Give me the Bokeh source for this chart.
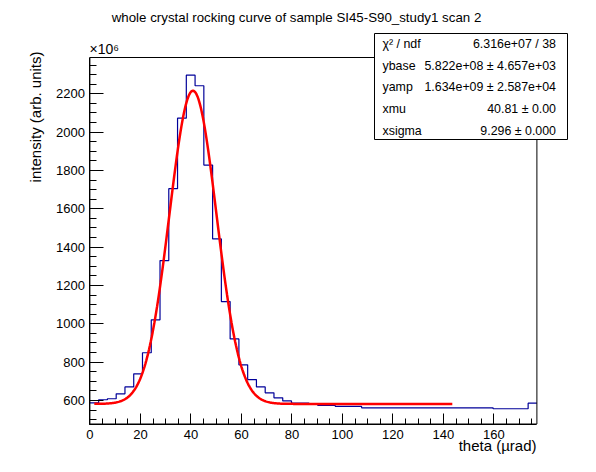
import numpy as np
from bokeh.plotting import figure
from bokeh.models import Range1d, SingleIntervalTicker, Label, BoxAnnotation, ColumnDataSource
from bokeh.embed import file_html
from bokeh.resources import INLINE

# ---------------- data (intensity in units of 10^6) ----------------
hist_xmin = 0.0
hist_xmax = 177.0
hist_counts = [588, 604, 609, 635, 671, 739, 849, 1021, 1330, 1705,
               2073, 2297, 2242, 1828, 1443, 1116, 921, 786, 709, 671,
               640, 614, 598, 586, 586, 579, 574, 574, 569, 569,
               569, 562, 562, 562, 562, 562, 562, 562, 562, 562,
               562, 562, 562, 562, 562, 562, 557, 557, 557, 557,
               586]

# fit parameters (from the stats box), ybase/yamp in units of 10^6
fit_ybase = 582.2
fit_yamp = 1634.0
fit_xmu = 40.81
fit_xsigma = 9.296
fit_xmin = 1.74
fit_xmax = 143.5

# displayed axis window
y_lo, y_hi = 477.4, 2389.4

stats_names = ["\u03c7\u00b2 / ndf", "ybase", "yamp", "xmu", "xsigma"]
stats_values = ["6.316e+07 / 38", "5.822e+08 \u00b1 4.657e+03",
                "1.634e+09 \u00b1 2.587e+04", "40.81 \u00b1 0.00", "9.296 \u00b1 0.000"]

title_text = "whole crystal rocking curve of sample SI45-S90_study1 scan 2"
xtitle_text = "theta (\u00b5rad)"
ytitle_text = "intensity (arb. units)"
exponent_text = "\u00d710\u2076"

# ---------------- layout constants (canvas pixels) ----------------
FONT = "Liberation Sans"
W, H = 580, 456
FL, FR, FT, FB = 89.4, 536.4, 57.0, 423.5   # visible axes box

kx = (FR - FL) / (hist_xmax - hist_xmin)
ky = (FB - FT) / (y_hi - y_lo)
xr = Range1d(hist_xmin - FL / kx, hist_xmax + (W - FR) / kx)
yr = Range1d(y_lo - (H - FB) / ky, y_hi + FT / ky)

p = figure(width=W, height=H, output_backend="svg", toolbar_location=None,
           x_range=xr, y_range=yr, min_border=0,
           min_border_left=0, min_border_right=0, min_border_top=0, min_border_bottom=0)
p.background_fill_color = "white"
p.border_fill_color = "white"
p.outline_line_color = None
p.xgrid.visible = False
p.ygrid.visible = False

p.xaxis.ticker = SingleIntervalTicker(interval=20, num_minor_ticks=4)
p.yaxis.ticker = SingleIntervalTicker(interval=200, num_minor_ticks=4)
p.xaxis.fixed_location = y_lo
p.xaxis.bounds = (hist_xmin, hist_xmax)
p.yaxis.fixed_location = hist_xmin
p.yaxis.bounds = (y_lo, y_hi)
for ax, tin, minin, stand in ((p.xaxis, 11, 6, 6), (p.yaxis, 14, 7, 5)):
    ax.major_tick_in = tin
    ax.major_tick_out = 0
    ax.minor_tick_in = minin
    ax.minor_tick_out = 0
    ax.axis_line_color = "black"
    ax.major_tick_line_color = "black"
    ax.minor_tick_line_color = "black"
    ax.major_label_text_font = FONT
    ax.major_label_text_font_size = "13px"
    ax.major_label_text_color = "black"
    ax.major_label_standoff = stand

# histogram
n_bins = len(hist_counts)
edges = np.linspace(hist_xmin, hist_xmax, n_bins + 1)
src = ColumnDataSource(dict(x=edges, y=list(hist_counts) + [hist_counts[-1]]))
p.step("x", "y", source=src, mode="after", line_color="#000099", line_width=1.2)

# fit function drawn from the fit parameters
fx = np.linspace(fit_xmin, fit_xmax, 400)
fy = fit_ybase + fit_yamp * np.exp(-0.5 * ((fx - fit_xmu) / fit_xsigma) ** 2)
p.line(fx, fy, line_color="#ff0000", line_width=2.5)

# axes box (frame)
p.add_layout(BoxAnnotation(left=hist_xmin, right=hist_xmax, bottom=y_lo, top=y_hi,
                           fill_alpha=0, line_color="black", line_width=1, line_alpha=1.0))

# ---------------- annotations (screen units, y measured from bottom) ----------------
def add_label(x, y, text, size, align="left", baseline="middle", angle=0.0):
    p.add_layout(Label(x=x, y=H - y, x_units="screen", y_units="screen", text=text,
                       text_font=FONT, text_font_size=size, text_color="black",
                       text_align=align, text_baseline=baseline, angle=angle))

add_label(296, 16.5, title_text, "13.3px", align="center")
add_label(89, 48, exponent_text, "14px")
add_label(536, 445, xtitle_text, "15px", align="right")
add_label(35, 51, ytitle_text, "15px", align="right", angle=np.pi / 2)

p.add_layout(BoxAnnotation(left=374, right=567, top=H - 33, bottom=H - 139,
                           left_units="screen", right_units="screen",
                           top_units="screen", bottom_units="screen",
                           fill_color="white", fill_alpha=1.0,
                           line_color="black", line_width=1, line_alpha=1.0))
row_y = [43.3, 65.7, 86.7, 108.3, 130.0]
for yy, nm, val in zip(row_y, stats_names, stats_values):
    add_label(382, yy, nm, "12.4px")
    add_label(555.5, yy, val, "12.4px", align="right")

open("out.html", "w").write(file_html(p, INLINE))
